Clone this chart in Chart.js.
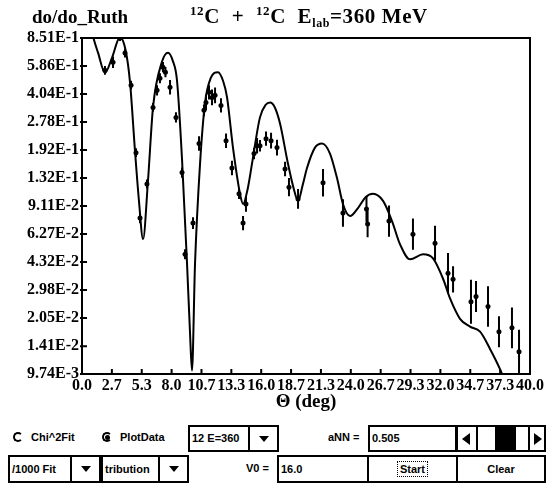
<!DOCTYPE html>
<html>
<head>
<meta charset="utf-8">
<script src="https://cdn.jsdelivr.net/npm/chart.js@4.4.1/dist/chart.umd.min.js"></script>
<style>
body { margin: 0; background: #fff; }
#wrap { position: relative; width: 552px; height: 485px; overflow: hidden; background: #fff; }
#chart { position: absolute; left: 0; top: 0; }
.serif { position: absolute; font-family: 'Liberation Serif', serif; font-weight: bold; color: #000; white-space: nowrap; }
.sup { font-size: 13px; position: relative; top: -8px; }
.sub { font-size: 12px; position: relative; top: 4px; }
.ui { position: absolute; font-family: 'Liberation Sans', Arial, sans-serif; font-weight: bold; font-size: 11px; color: #000; white-space: nowrap; }
.box { position: absolute; box-sizing: border-box; border: 2px solid #000; background: #fff;
       font-family: 'Liberation Sans', Arial, sans-serif; font-weight: bold; font-size: 11px;
       padding-left: 2px; white-space: nowrap; overflow: hidden; }
.drop::after { content: ''; position: absolute; left: 50%; top: 50%; margin-left: -5px; margin-top: -3px;
       border-left: 5px solid transparent; border-right: 5px solid transparent; border-top: 6px solid #000; }
.radio { position: absolute; width: 6px; height: 6px; border: 2px solid #000; border-right-color: transparent; border-radius: 50%; }
</style>
</head>
<body>
<div id="wrap">
  <canvas id="chart" width="552" height="415"></canvas>

  <div class="serif" style="left:32px; top:6px; font-size:19px;">do/do_Ruth</div>
  <div class="serif" style="left:190px; top:4px; font-size:21px; letter-spacing:0.6px;"><span class="sup">12</span>C&nbsp; +&nbsp; <span class="sup">12</span>C&nbsp; E<span class="sub">lab</span>=360 MeV</div>

  <!-- control panel, row 1 -->
  <div class="radio" style="left:13px; top:432px;"></div>
  <div class="ui" style="left:31px; top:431px;">Chi^2Fit</div>
  <div class="radio" style="left:102px; top:432px;"></div>
  <div style="position:absolute; left:105px; top:435px; width:5px; height:5px; border-radius:50%; background:#000;"></div>
  <div class="ui" style="left:120px; top:431px;">PlotData</div>
  <div class="box" style="left:188px; top:425px; width:62px; height:27px; line-height:23px;">12 E=360</div>
  <div class="box drop" style="left:248px; top:425px; width:31px; height:27px;"></div>
  <div class="ui" style="left:328px; top:431px;">aNN =</div>
  <div class="box" style="left:368px; top:425px; width:89px; height:27px; line-height:23px;">0.505</div>
  <div class="box" style="left:456px; top:425px; width:90px; height:27px; padding:0;">
    <div style="position:absolute; left:4px; top:6px; border-top:6px solid transparent; border-bottom:6px solid transparent; border-right:8px solid #000;"></div>
    <div style="position:absolute; left:18px; top:0; width:2px; height:23px; background:#000;"></div>
    <div style="position:absolute; left:37px; top:0; width:21px; height:23px; background:#000;"></div>
    <div style="position:absolute; left:70px; top:0; width:2px; height:23px; background:#000;"></div>
    <div style="position:absolute; left:76px; top:6px; border-top:6px solid transparent; border-bottom:6px solid transparent; border-left:8px solid #000;"></div>
  </div>

  <!-- control panel, row 2 -->
  <div class="box" style="left:8px; top:455px; width:64px; height:28px; line-height:24px;">/1000 Fit</div>
  <div class="box drop" style="left:70px; top:455px; width:31px; height:28px;"></div>
  <div class="box" style="left:101px; top:455px; width:59px; height:28px; line-height:24px;">tribution</div>
  <div class="box drop" style="left:158px; top:455px; width:31px; height:28px;"></div>
  <div class="ui" style="left:246px; top:462px;">V0 =</div>
  <div class="box" style="left:277px; top:455px; width:92px; height:28px; line-height:24px;">16.0</div>
  <div class="box" style="left:367px; top:455px; width:91px; height:28px; text-align:center; line-height:24px; padding:0;">
    <span style="border:1px dotted #000; padding:1px 2px;">Start</span>
  </div>
  <div class="box" style="left:456px; top:455px; width:90px; height:28px; text-align:center; line-height:24px; padding:0;">Clear</div>
</div>

<script>
// theory curve
const curveTheta = [0, 0.6, 1.0, 1.43, 2.05, 2.7, 3.39, 3.9, 4.29, 4.73, 5.1, 5.45, 5.89, 6.34, 7.14, 7.68, 8.1, 8.48,
    8.93, 9.38, 9.64, 9.82, 10.09, 10.54, 10.98, 11.5, 12.14, 12.6, 12.95, 13.48, 14.11, 14.38, 14.8, 15.18, 15.89,
    16.4, 16.79, 17.2, 17.68, 18.39, 18.9, 19.29, 19.7, 20.09, 20.8, 21.43, 22.14, 22.77, 23.3, 23.93, 24.64, 25.3,
    25.98, 26.88, 27.68, 28.39, 29.29, 30.45, 31.34, 32.23, 32.86, 33.75, 34.64, 35.54, 36.43, 37.32, 37.77, 38.2];
const curveValue = [1.4, 1.1, 0.86, 0.70, 0.535, 0.66, 0.86, 0.72, 0.47, 0.19, 0.095, 0.0586, 0.127, 0.338, 0.62, 0.70,
    0.63, 0.485, 0.17, 0.042, 0.0171, 0.0102, 0.042, 0.16, 0.357, 0.50, 0.54, 0.48, 0.386, 0.198, 0.107, 0.0935, 0.115,
    0.16, 0.296, 0.35, 0.361, 0.34, 0.273, 0.16, 0.115, 0.0974, 0.12, 0.151, 0.198, 0.209, 0.183, 0.132, 0.0935, 0.0796,
    0.0886, 0.102, 0.107, 0.0974, 0.0745, 0.0548, 0.0448, 0.0479, 0.0454, 0.0347, 0.0266, 0.0203, 0.0183, 0.0171,
    0.0136, 0.0104, 0.0088, 0.0075];

// measured points and their errors (percent)
const dataTheta = [2.05, 2.77, 3.39, 3.84, 4.38, 4.82, 5.18, 5.80, 6.34, 6.70, 6.96, 7.23, 7.45, 7.86, 8.39, 8.93,
    9.20, 9.91, 10.45, 10.89, 11.07, 11.34, 11.61, 11.88, 12.41, 12.86, 13.39, 14.02, 14.38, 14.64, 15.36, 15.63,
    15.89, 16.43, 16.88, 17.41, 18.13, 18.48, 19.29, 21.52, 23.30, 25.40, 25.50, 27.41, 29.55, 31.52, 32.68, 33.13,
    34.73, 35.18, 36.25, 37.23, 38.39, 39.02];
const dataValue = [0.554, 0.617, 0.851, 0.696, 0.454, 0.185, 0.0775, 0.122, 0.338, 0.424, 0.498, 0.577, 0.54, 0.442,
    0.296, 0.142, 0.0479, 0.0725, 0.209, 0.325, 0.361, 0.413, 0.386, 0.397, 0.347, 0.217, 0.151, 0.107, 0.0725, 0.0935,
    0.183, 0.203, 0.203, 0.223, 0.217, 0.198, 0.149, 0.117, 0.100, 0.124, 0.0829, 0.0875, 0.0716, 0.0745, 0.0626,
    0.0555, 0.0372, 0.0343, 0.0255, 0.0273, 0.0239, 0.0171, 0.0180, 0.0131];
const errPct = [6, 8, 4, 6, 6, 6, 7, 6, 6, 7, 7, 7, 7, 10, 7, 7, 7, 8, 10, 8, 11, 10, 11, 11, 10, 10, 10, 7, 10, 11,
    8, 11, 8, 10, 11, 11, 10, 13, 14, 20, 20, 19, 19, 23, 23, 26, 31, 19, 34, 23, 31, 23, 31, 34];

const yTickValues = [0.851, 0.586, 0.404, 0.278, 0.192, 0.132, 0.0911, 0.0627, 0.0432, 0.0298, 0.0205, 0.0141, 0.00974];
const yTickLabels = ['8.51E-1', '5.86E-1', '4.04E-1', '2.78E-1', '1.92E-1', '1.32E-1', '9.11E-2', '6.27E-2',
    '4.32E-2', '2.98E-2', '2.05E-2', '1.41E-2', '9.74E-3'];
const xTickValues = [0, 2.667, 5.333, 8, 10.667, 13.333, 16, 18.667, 21.333, 24, 26.667, 29.333, 32, 34.667, 37.333, 40];
const xTickLabels = ['0.0', '2.7', '5.3', '8.0', '10.7', '13.3', '16.0', '18.7', '21.3', '24.0', '26.7', '29.3',
    '32.0', '34.7', '37.3', '40.0'];

Chart.defaults.font.family = "'Liberation Serif', serif";
Chart.defaults.color = '#000';

// frame, inward tick marks and error bars
const framePlugin = {
    id: 'framePlugin',
    afterDatasetsDraw(chart) {
        const {ctx, chartArea, scales} = chart;
        const xs = scales.x, ys = scales.y;
        ctx.save();
        ctx.beginPath();
        ctx.rect(chartArea.left, chartArea.top, chartArea.right - chartArea.left, chartArea.bottom - chartArea.top);
        ctx.clip();
        ctx.strokeStyle = '#000';
        ctx.lineWidth = 2;
        ctx.beginPath();
        for (let i = 0; i < dataTheta.length; i++) {
            const f = errPct[i] / 100;
            const px = xs.getPixelForValue(dataTheta[i]);
            ctx.moveTo(px, ys.getPixelForValue(dataValue[i] * (1 + f)));
            ctx.lineTo(px, ys.getPixelForValue(dataValue[i] / (1 + f)));
        }
        ctx.stroke();
        ctx.restore();

        ctx.save();
        ctx.strokeStyle = '#000';
        ctx.lineWidth = 2;
        ctx.strokeRect(chartArea.left, chartArea.top, chartArea.right - chartArea.left, chartArea.bottom - chartArea.top);
        ctx.beginPath();
        xTickValues.forEach(v => {
            const px = xs.getPixelForValue(v);
            ctx.moveTo(px, chartArea.bottom);
            ctx.lineTo(px, chartArea.bottom - 5);
        });
        yTickValues.forEach(v => {
            const py = ys.getPixelForValue(v);
            ctx.moveTo(chartArea.left - 2, py);
            ctx.lineTo(chartArea.left + 5, py);
        });
        ctx.stroke();
        ctx.restore();
    }
};

const ctx = document.getElementById('chart').getContext('2d');

const curve = curveTheta.map((t, i) => ({x: t, y: curveValue[i]}));
const points = dataTheta.map((t, i) => ({x: t, y: dataValue[i]}));

const myChart = new Chart(ctx, {
    type: 'scatter',
    data: {
        datasets: [
            {
                label: 'theory',
                data: curve,
                showLine: true,
                borderColor: '#000',
                borderWidth: 2,
                pointRadius: 0,
                cubicInterpolationMode: 'monotone'
            },
            {
                label: 'data',
                data: points,
                showLine: false,
                pointRadius: 2.5,
                backgroundColor: '#000',
                borderWidth: 0
            }
        ]
    },
    options: {
        responsive: false,
        animation: false,
        layout: {
            padding: {left: 0, top: 38, right: 22, bottom: 0}
        },
        plugins: {
            legend: {display: false},
            tooltip: {enabled: false}
        },
        scales: {
            x: {
                type: 'linear',
                position: 'bottom',
                min: 0,
                max: 40,
                grid: {display: false, drawTicks: false},
                border: {display: false},
                ticks: {
                    autoSkip: false,
                    maxRotation: 0,
                    padding: 2,
                    font: {size: 16, weight: 'bold'},
                    callback: (v, i) => xTickLabels[i]
                },
                title: {
                    display: true,
                    text: 'Θ (deg)',
                    font: {size: 19, weight: 'bold'},
                    padding: {top: 0, bottom: 2}
                },
                afterBuildTicks: scale => {
                    scale.ticks = xTickValues.map(v => ({value: v}));
                },
                afterFit: scale => {
                    scale.height = 41;
                }
            },
            y: {
                type: 'logarithmic',
                min: 0.00974,
                max: 0.851,
                grid: {display: false, drawTicks: false},
                border: {display: false},
                ticks: {
                    autoSkip: false,
                    padding: 3,
                    font: {size: 16, weight: 'bold'},
                    callback: v => yTickLabels[yTickValues.indexOf(v)]
                },
                afterBuildTicks: scale => {
                    scale.ticks = yTickValues.map(v => ({value: v}));
                },
                afterFit: scale => {
                    scale.width = 82;
                }
            }
        }
    },
    plugins: [framePlugin]
});
</script>
</body>
</html>
